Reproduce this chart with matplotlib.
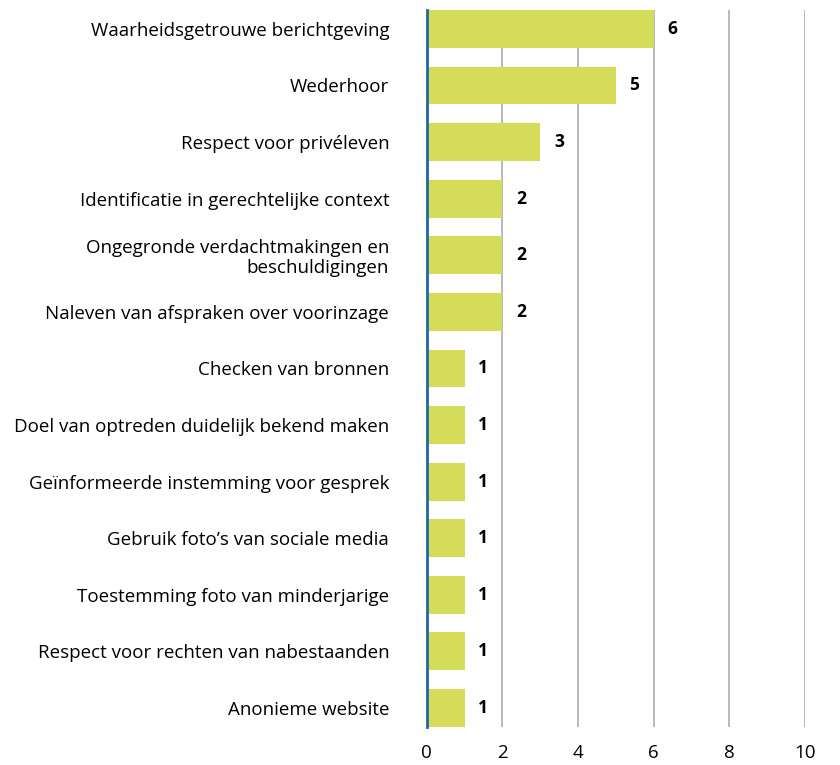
import matplotlib
matplotlib.use("Agg")
import matplotlib.pyplot as plt

plt.rcParams['font.family'] = ['Open Sans', 'DejaVu Sans']

categories = [
    "Waarheidsgetrouwe berichtgeving",
    "Wederhoor",
    "Respect voor privéleven",
    "Identificatie in gerechtelijke context",
    "Ongegronde verdachtmakingen en\nbeschuldigingen",
    "Naleven van afspraken over voorinzage",
    "Checken van bronnen",
    "Doel van optreden duidelijk bekend maken",
    "Geïnformeerde instemming voor gesprek",
    "Gebruik foto’s van sociale media",
    "Toestemming foto van minderjarige",
    "Respect voor rechten van nabestaanden",
    "Anonieme website",
]
values = [6, 5, 3, 2, 2, 2, 1, 1, 1, 1, 1, 1, 1]
xticks = [0, 2, 4, 6, 8, 10]

bar_color = "#d4dc5a"
axis_blue = "#1f66a8"
grid_gray = "#b3b3b3"

fig = plt.figure(figsize=(8.4, 7.65), dpi=100)
ax = fig.add_axes([0.508, 0.0497, 0.45, 0.9373])

y = list(range(len(categories)))
bh = 0.67
ax.barh(y, values, height=bh, color=bar_color, zorder=2)

for yi, v in zip(y, values):
    ax.annotate(str(v), (v, yi), xytext=(10, 0), textcoords="offset points",
                ha="left", va="center", fontsize=12.5, fontweight="bold", color="black")

ax.set_xlim(0, 10)
ax.set_ylim(len(categories) - 1 + bh / 2, -bh / 2)
ax.set_xticks(xticks)
ax.set_yticks(y)
ax.set_yticklabels(categories, fontsize=13.5, ha="right", multialignment="right",
                   linespacing=1.1)
ax.tick_params(axis="y", length=0, pad=27)
ax.tick_params(axis="x", length=0, pad=12, labelsize=13.5)

ax.grid(axis="x", color=grid_gray, linewidth=1.3, zorder=1)
for s in ["top", "right", "bottom"]:
    ax.spines[s].set_visible(False)
ax.spines["left"].set_color(axis_blue)
ax.spines["left"].set_linewidth(2)
ax.spines["left"].set_zorder(3)

fig.savefig("out.png", dpi=100)
